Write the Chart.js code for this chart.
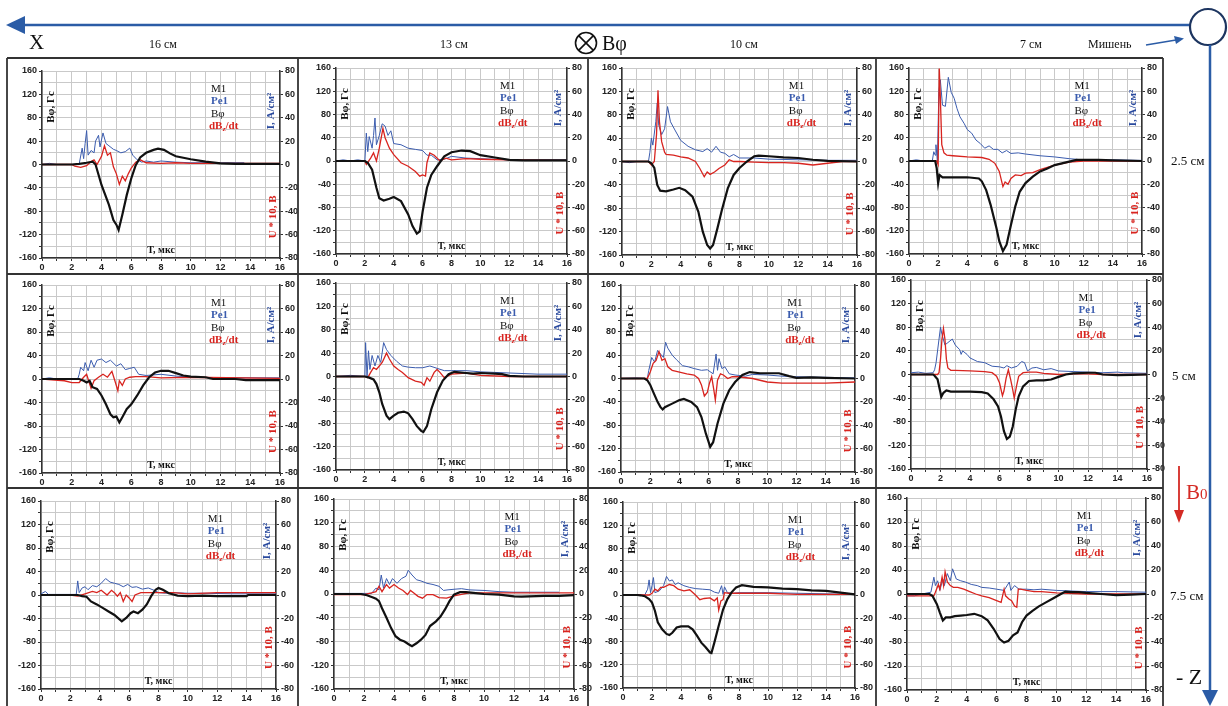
<!DOCTYPE html>
<html><head><meta charset="utf-8">
<script src="https://cdn.jsdelivr.net/npm/chart.js@4.4.1/dist/chart.umd.min.js"></script>
<style>
html,body{margin:0;padding:0;background:#fff;width:1228px;height:706px;overflow:hidden;}
#root{position:relative;width:1228px;height:706px;}
canvas{position:absolute;}
.t{position:absolute;font-family:"Liberation Serif","Times New Roman",serif;color:#111;white-space:nowrap;line-height:1;}
#ov{position:absolute;left:0;top:0;pointer-events:none;}
</style></head><body><div id="root">
<svg id="ov" width="1228" height="706">
  <g stroke="#333" stroke-width="1.8" fill="none">
    <line x1="7" y1="58" x2="1163" y2="58"/>
    <line x1="7" y1="274" x2="1163" y2="274"/>
    <line x1="7" y1="488" x2="1163" y2="488"/>
    <line x1="7" y1="58" x2="7" y2="706"/>
    <line x1="298" y1="58" x2="298" y2="706"/>
    <line x1="588" y1="58" x2="588" y2="706"/>
    <line x1="876" y1="58" x2="876" y2="706"/>
    <line x1="1163" y1="58" x2="1163" y2="706"/>
  </g>
  <line x1="20" y1="25" x2="1190" y2="25" stroke="#2b5ca6" stroke-width="2.5"/>
  <polygon points="6,25 25,16 25,34" fill="#2b5ca6"/>
  <circle cx="1208" cy="27" r="18" fill="#fff" stroke="#1d3560" stroke-width="2.2"/>
  <line x1="1210" y1="45" x2="1210" y2="692" stroke="#2b5ca6" stroke-width="2.5"/>
  <polygon points="1210,706 1202,690 1218,690" fill="#2b5ca6"/>
  <line x1="1146" y1="45" x2="1176" y2="40" stroke="#2b5ca6" stroke-width="1.5"/>
  <polygon points="1184,38.5 1174,36 1176,44" fill="#2b5ca6"/>
  <circle cx="586" cy="43" r="10.5" fill="none" stroke="#111" stroke-width="1.6"/>
  <line x1="578.6" y1="35.6" x2="593.4" y2="50.4" stroke="#111" stroke-width="1.6"/>
  <line x1="593.4" y1="35.6" x2="578.6" y2="50.4" stroke="#111" stroke-width="1.6"/>
  <line x1="1179" y1="466" x2="1179" y2="512" stroke="#d42a24" stroke-width="1.8"/>
  <polygon points="1179,523 1174,510 1184,510" fill="#d42a24"/>
</svg>
<div class="t" style="left:29px;top:32px;font-size:21px;">X</div>
<div class="t" id="c0" style="left:149px;top:38px;font-size:12px;"></div>
<div class="t" id="c1" style="left:440px;top:38px;font-size:12px;"></div>
<div class="t" style="left:602px;top:33px;font-size:20px;">Bφ</div>
<div class="t" id="c2" style="left:730px;top:38px;font-size:12px;"></div>
<div class="t" id="c3" style="left:1020px;top:38px;font-size:12px;"></div>
<div class="t" style="left:1088px;top:38px;font-size:12px;">Мишень</div>
<div class="t" id="r0" style="left:1171px;top:154px;font-size:13px;"></div>
<div class="t" id="r1" style="left:1172px;top:369px;font-size:13px;"></div>
<div class="t" id="r2" style="left:1170px;top:589px;font-size:13px;"></div>
<div class="t" style="left:1186px;top:482px;font-size:21px;color:#d42a24;">B<span style="font-size:15px;">0</span></div>
<div class="t" style="left:1176px;top:666px;font-size:22px;">- Z</div>
</div>
<script>
// ---------- labels ----------
const columnLabels = ['16 см', '13 см', '10 см', '7 см'];
const rowLabels = ['2.5 см', '5 см', '7.5 см'];
const seriesNames = ['M1', 'Pe1', 'Bφ', 'dBz/dt'];
const xTickRange = [0, 16];
const leftTickRange = [-160, 160];
const rightTickRange = [-80, 80];

// ---------- data: [t (мкс), value] ----------
// Bφ (Гс, left axis); I = Pe1 (A/см², right axis); U = dBz/dt (U*10 В, right axis)
const B1 = [[0,0],[1,0],[2,0],[2.5,1],[3,3],[3.4,5],[3.6,0],[4,-35],[4.5,-69],[4.8,-95],[5,-103],[5.15,-112],[5.4,-86],[5.7,-52],[6,-24],[6.3,-1],[6.6,12],[7,20],[7.5,25],[7.8,27],[8.2,25],[8.6,19],[9,14],[10,9],[11,5],[12,2],[13,1],[16,1]];
const I1 = [[0,0],[0.5,1],[1,0],[2,0],[2.5,0.5],[2.7,14],[2.8,5],[2.9,18],[3.0,29],[3.1,8],[3.3,12],[3.5,10],[3.6,20],[3.8,25],[3.9,15],[4.1,27],[4.3,18],[4.5,16],[4.8,13],[5,12],[5.3,10],[5.6,11],[5.9,14],[6.1,8],[6.4,4],[6.7,2],[7,3],[7.5,2],[8,3],[9,2],[10,1.5],[12,1.5],[13.6,1.5]];
const U1 = [[0,0],[2,0],[2.2,-1.5],[2.6,-2.5],[3,-1],[3.3,2.5],[3.5,4],[3.7,0],[4,7],[4.2,16],[4.4,8],[4.6,10],[4.8,-2],[5.0,-8],[5.2,-17],[5.4,-10],[5.6,-14],[5.8,-8],[6,-3],[6.3,2],[6.6,4],[7,1.5],[8,1],[9,1.5],[10,1],[16,1]];

const B2 = [[0,0],[1,0],[2,0],[2.2,-3],[2.5,-15],[2.8,-46],[3.0,-64],[3.3,-68],[3.7,-65],[4,-62],[4.5,-69],[5,-92],[5.3,-112],[5.6,-125],[5.8,-121],[6,-87],[6.3,-46],[6.6,-24],[7,-9],[7.5,8],[8,15],[8.7,18],[9.3,17],[10,10],[11,6],[12,2],[13,1],[16,1]];
const I2 = [[0,0],[0.5,1],[1,0],[1.5,1],[2,0],[2.1,24],[2.2,8],[2.3,21],[2.5,11],[2.6,22],[2.7,37],[2.8,14],[3.0,22],[3.2,32],[3.4,30],[3.6,22],[3.8,26],[4,15],[4.5,14],[5,11],[5.5,10],[6,9],[6.3,5],[6.6,5],[7,1],[7.5,1.5],[8,4],[9,2.5],[10,2],[11,1.5],[12,1],[16,1]];
const U2 = [[0,0],[2,0],[2.1,-3],[2.4,2.5],[2.6,7],[2.8,0],[3.0,11],[3.25,28],[3.4,20],[3.7,11],[4,5.5],[4.5,-1.5],[5,-4.5],[5.5,-9],[5.8,-13],[6,-12],[6.2,-13],[6.3,-1.5],[6.5,7],[6.8,5],[7.2,0],[7.6,2.5],[8,1],[9,2],[10,1.5],[12,1],[16,0.5]];

const B3 = [[0,0],[1.8,0],[2,-3],[2.2,-11],[2.4,-40],[2.6,-50],[3,-51],[3.5,-48],[3.9,-45],[4.3,-49],[4.8,-60],[5.2,-86],[5.5,-120],[5.8,-143],[6,-149],[6.2,-143],[6.5,-114],[6.8,-83],[7.2,-46],[7.6,-23],[8,-11],[8.5,0],[9,9],[9.3,10],[10,9],[11,7],[12,6],[13,3],[14,1],[16,0]];
const I3 = [[0,0],[0.5,-1],[1,0],[1.8,0],[1.9,8],[2.0,20],[2.1,14],[2.3,34],[2.4,50],[2.5,31],[2.7,23],[2.9,28],[3.1,47],[3.3,34],[3.6,27],[4,18],[4.5,13],[5,10],[5.5,8.5],[5.8,11],[6.1,8],[6.4,13],[6.7,8],[7,7],[7.3,4],[7.6,6],[8,3],[9,3],[10,2],[12,1.5],[14,1],[16,1]];
const U3 = [[0,0],[1.8,0],[2,-3],[2.2,0],[2.35,23],[2.45,61],[2.55,34],[2.7,17],[2.9,8],[3,6],[3.5,5.5],[4,4],[4.5,3],[5,0],[5.3,-6],[5.6,-13],[5.8,-9],[6,-11],[6.3,-9],[6.6,-6],[7,-3],[7.3,1.5],[7.6,0],[8,0],[9,-0.5],[10,-1],[11,-1],[12,-1.5],[13,-3],[14,-1.5],[15,0],[16,0]];

const B4 = [[0,0],[1.8,0],[1.9,-12],[2.0,-38],[2.1,-24],[2.3,-28],[3,-28],[4,-28],[4.8,-30],[5,-35],[5.3,-50],[5.6,-75],[6,-115],[6.2,-138],[6.45,-155],[6.7,-144],[7,-110],[7.3,-78],[7.6,-53],[8,-38],[8.5,-27],[9,-18],[9.5,-13],[10,-7],[10.5,-4],[11,-1],[11.5,2],[13,2],[14,1],[16,0]];
const I4 = [[0,0],[0.5,1],[1,0],[1.6,0],[1.7,8],[1.8,5],[1.85,14],[1.95,0],[2.05,60],[2.15,70],[2.3,48],[2.5,47],[2.7,72],[2.9,59],[3.1,54],[3.3,45],[3.5,38],[3.8,32],[4,27],[4.3,24],[4.6,18],[4.9,15],[5.2,11],[5.5,13],[5.8,10],[6.1,10],[6.4,7],[6.7,9],[7,6.5],[7.5,7],[8,6],[9,4.5],[10,3.5],[11,2],[11.5,1.5],[12,0.5],[13,0.5],[14,1],[16,0.5]];
const U4 = [[0,0],[1.9,0],[2.0,-3],[2.08,79.5],[2.15,56],[2.25,14],[2.4,7],[2.6,5],[3,4.5],[4,3.5],[5,3],[5.5,1.5],[5.9,-2],[6.2,-9],[6.45,-22],[6.6,-18],[6.8,-20],[7,-15],[7.3,-12],[7.7,-12.5],[8,-10.5],[8.5,-10],[9,-7.5],[10,-3.5],[11,-1],[12,0],[16,0]];

const B5 = [[0,0],[2.5,0],[2.8,-3],[3.0,-6],[3.2,-3],[3.4,-14],[3.7,-17],[4,-28],[4.3,-43],[4.6,-60],[4.8,-65],[5,-64],[5.2,-74],[5.4,-65],[5.7,-51],[6,-43],[6.4,-28],[6.8,-11],[7.2,3],[7.6,11],[8,14],[8.5,14],[9,10],[9.5,6],[10,4],[11,3],[11.5,0],[13,0],[13.7,-2],[16,-2]];
const I5 = [[0,0],[0.5,1],[1,0],[2.4,0],[2.5,4],[2.6,10],[2.8,7],[2.9,14],[3.1,7],[3.3,16],[3.5,10],[3.7,16],[4,17],[4.3,14],[4.6,16],[5,11],[5.3,13],[5.6,8],[5.9,9],[6.2,10],[6.5,4],[7,3],[7.5,3.5],[8,4],[9,2.5],[10,1.5],[12,1],[16,1]];
const U5 = [[0,0],[1.5,-1.5],[2,-3],[2.5,-3],[2.8,1.5],[3.0,4],[3.2,-4],[3.3,-8],[3.5,-1.5],[3.8,1.5],[4.1,4],[4.4,1.5],[4.7,6.5],[4.9,-1.5],[5.1,-10],[5.2,-1.5],[5.4,-5.5],[5.6,0],[5.9,1.5],[6.3,2],[7,2],[8,1],[10,1.5],[16,0.5]];

const B6 = [[0,0],[2,0],[2.3,-2],[2.6,-5],[2.8,-13],[3.0,-27],[3.2,-47],[3.5,-67],[3.7,-73],[4,-67],[4.3,-62],[4.7,-60],[5,-63],[5.3,-73],[5.6,-85],[5.9,-93],[6.05,-95],[6.3,-85],[6.6,-56],[7,-27],[7.4,-7],[7.8,4],[8.2,8],[9,6],[9.5,5],[10,6],[11,5],[11.5,4],[12,1],[13,0],[16,0]];
const I6 = [[0,0],[1,1],[2,0],[2.05,29],[2.15,0],[2.25,22],[2.35,6],[2.5,18],[2.7,9],[2.9,18],[3.1,12],[3.3,29],[3.5,23],[3.8,18],[4.2,13],[4.6,9],[5,8],[5.5,7.5],[6,7.5],[6.5,9],[7,7],[7.5,5],[8,5],[9,5],[10,4],[11,3.5],[12,3],[14,2],[16,2]];
const U6 = [[0,0],[2,0],[2.2,-1],[2.4,3.5],[2.6,7.5],[2.8,6],[3.0,9],[3.2,12],[3.5,20],[3.7,15],[4,9],[4.3,6],[4.6,3.5],[5,-1],[5.5,-4],[5.9,-5],[6.1,-7.5],[6.3,-1],[6.5,-4],[6.8,3.5],[7,6],[7.2,3.5],[7.5,-1],[8,2],[9,3],[10,1],[12,0],[16,0]];

const B7 = [[0,0],[1.6,0],[1.8,-3],[2,-11],[2.2,-23],[2.5,-40],[2.7,-49],[2.85,-53],[3,-49],[3.5,-43],[4,-37],[4.3,-35],[4.8,-40],[5.2,-49],[5.5,-66],[5.8,-94],[6.1,-117],[6.3,-109],[6.6,-77],[7,-43],[7.4,-20],[7.8,-6],[8.3,6],[8.8,11],[9.5,9],[10,9],[10.8,9],[11.5,4],[12,1],[13,2],[14,1],[16,0]];
const I7 = [[0,0],[1,0.5],[1.8,0],[1.9,7],[2.1,18],[2.3,14],[2.5,24],[2.7,21],[2.9,18],[3.05,31],[3.2,26],[3.5,20],[3.8,16],[4.2,11],[4.6,10],[5,8.5],[5.5,7],[5.9,7.5],[6.3,4],[6.5,21],[6.6,7],[6.7,17],[6.9,8.5],[7.1,10],[7.4,4],[7.8,3],[8.5,2],[9,3.5],[10,3],[11,2],[12,1.5],[14,1],[16,0.5]];
const U7 = [[0,0],[1.8,0],[2,5.5],[2.2,13],[2.4,15.5],[2.6,23],[2.8,15.5],[3,17],[3.2,10],[3.5,7],[4,5.5],[4.5,4],[5,3],[5.3,0],[5.5,-5.5],[5.7,-15],[5.9,-12],[6.05,-4],[6.2,1.5],[6.35,-10],[6.45,-18.5],[6.6,-1.5],[6.8,4],[7,3],[7.3,0],[7.6,1.5],[8,1.5],[9,0],[10,-3],[11,-4],[12,-4],[13,-4],[14,-4],[16,-3]];

const B8 = [[0,0],[1.5,0],[1.6,-2],[1.8,-8],[2.0,-31],[2.05,-38],[2.2,-31],[2.4,-27],[2.7,-29],[3,-29],[4,-29],[4.8,-30],[5.2,-32],[5.6,-42],[5.9,-54],[6.1,-71],[6.3,-96],[6.5,-109],[6.7,-105],[6.9,-88],[7.1,-59],[7.3,-37],[7.6,-20],[8,-11],[8.5,-10],[9,-10],[9.5,-8.5],[10,-4],[10.5,0],[11,2],[12,3],[12.5,3],[13,0],[14,-1],[15,-0.5],[16,0]];
const I8 = [[0,1.5],[0.5,2],[1,1],[1.5,1.5],[1.6,4],[1.7,10],[1.9,30],[2.0,40],[2.1,34],[2.3,25],[2.5,27],[2.8,30],[3.0,25],[3.3,21],[3.4,17],[3.5,20],[3.8,17],[4,14],[4.5,11],[5,10],[5.5,7],[6,6.5],[6.3,5.5],[6.5,7.5],[6.8,5.5],[7.2,7],[7.5,11],[7.7,10],[7.9,3],[8.2,5.5],[8.5,6],[9,4],[9.5,5],[10,3],[11,2.5],[12,2],[13,1.5],[14,2],[14.4,1.5],[16,1]];
const U8 = [[0,0],[1.8,0],[1.9,1.5],[2.0,13],[2.1,30],[2.2,39],[2.3,30],[2.4,13],[2.5,5.5],[2.7,3.5],[3,3.5],[4,3],[5,2.5],[5.5,1.5],[5.8,-1.5],[6.0,-7],[6.2,-18],[6.3,-14],[6.45,-3],[6.6,4],[6.75,-4],[6.9,-13],[7.0,-20],[7.15,-10],[7.3,-1.5],[7.6,1.5],[8,2],[8.5,2],[9,1],[10,0],[11,0.5],[12,0.5],[13,0],[16,0]];

const B9 = [[0,0],[2.5,0],[2.8,-2],[3.1,-3],[3.4,-11],[3.8,-16],[4.2,-22],[4.6,-28],[5,-34],[5.5,-45],[5.8,-39],[6.1,-31],[6.3,-28],[6.6,-31],[6.9,-25],[7.2,-16],[7.5,-2],[7.8,9],[8,12],[8.3,9],[8.7,3],[9.3,-1],[10,-2],[11,-1],[12,-2],[13,-2],[14,-2],[14.1,0],[16,0]];
const I9 = [[0,1],[0.3,3],[0.5,0.5],[2.4,0.5],[2.5,12],[2.6,2],[2.8,6],[3.0,7],[3.2,4.5],[3.5,8],[3.8,7],[4.1,10],[4.4,14],[4.7,11],[5,10],[5.3,9],[5.6,7],[5.9,9],[6.2,6.5],[6.5,7],[6.9,5],[7.3,6],[7.7,4],[8,2],[8.5,1.5],[9,2],[10,1.5],[11,1.5],[13,1],[16,1]];
const U9 = [[0,0],[2,0],[2.5,-1],[3,1],[3.5,3],[3.8,2],[4.1,4],[4.5,0],[4.8,4],[5.0,2],[5.2,-1],[5.4,2],[5.6,-5.5],[5.8,0],[6.0,-2.5],[6.2,-5.5],[6.4,0],[6.8,2],[7.5,2],[8,2],[9,2],[10,1],[12,2],[14,2],[16,2]];

const B10 = [[0,0],[1.8,0],[2.2,-2],[2.6,-6],[2.8,-8],[3.0,-12],[3.2,-24],[3.5,-40],[3.8,-57],[4.1,-71],[4.4,-77],[4.7,-80],[5.0,-85],[5.2,-88],[5.5,-83],[5.8,-77],[6.1,-69],[6.4,-54],[6.8,-46],[7.1,-38],[7.4,-26],[7.7,-12],[8,-1],[8.4,3],[8.8,3],[9.3,2],[10,0],[11,-1],[12,-4],[12.5,-4.5],[13,-4],[14,-3],[15,-3],[16,-2]];
const I10 = [[0,0.5],[1,0.5],[2.5,0.5],[2.8,5],[3.0,3.5],[3.15,16],[3.3,5],[3.5,13],[3.7,8],[3.9,13],[4.2,9],[4.5,13],[4.8,15],[4.95,20],[5.2,16],[5.5,12],[5.8,11],[6.2,9],[6.6,8],[7,6.5],[7.3,3],[7.6,3.5],[8,4],[8.5,4.5],[9,3.5],[10,3],[11,2],[12,1.5],[14,1.5],[15,1.5]];
const U10 = [[0,-0.5],[1,-0.5],[2,-0.5],[2.5,1],[2.8,2],[3.0,6.5],[3.2,2],[3.5,8],[3.7,5],[4,8],[4.3,5],[4.6,3],[4.9,-0.5],[5.1,3],[5.3,1],[5.6,-2],[5.9,-3.5],[6.2,-0.5],[6.6,-0.5],[7,-3],[7.5,-3.5],[8,-1.5],[9,1],[10,1],[12,1],[14,1],[16,1]];

const B11 = [[0,0],[1,0],[1.2,-0.5],[1.5,-2],[1.8,-7],[2.0,-13],[2.2,-27],[2.4,-47],[2.7,-59],[3.0,-67],[3.2,-69],[3.4,-65],[3.7,-56],[4,-54],[4.5,-54],[4.8,-59],[5.1,-70],[5.4,-82],[5.7,-90],[6.0,-99],[6.1,-100],[6.3,-82],[6.6,-53],[6.9,-25],[7.2,-7],[7.5,5],[7.8,13],[8.2,17],[9,14],[10,13],[11,11],[12,10],[13,8],[14,7],[15,4],[16,1]];
const I11 = [[0,0],[1,0],[1.5,0],[1.7,5],[1.8,13],[1.9,2],[2.0,8],[2.1,15],[2.2,2],[2.5,3.5],[2.8,8],[3.0,16],[3.2,12],[3.4,13],[3.6,9],[3.8,10.5],[4.2,8],[4.6,6.5],[5,5.5],[5.5,5],[6,4.5],[6.3,2.5],[6.6,1.5],[6.8,8],[6.9,0.5],[7.0,7],[7.2,2],[7.6,1.5],[8,2],[10,2],[12,1.5],[14,1],[16,0.5]];
const U11 = [[0,0],[1.8,0],[2.0,1.5],[2.2,5],[2.4,3.5],[2.6,6.5],[2.8,6.5],[3.2,9],[3.5,8],[3.8,5],[4.2,3.5],[4.6,4.5],[5,0],[5.3,-4],[5.6,-3],[6,-2.5],[6.3,-5],[6.5,-2.5],[6.6,-13],[6.75,-5],[6.9,-4],[7.0,2],[7.3,1.5],[8,1.5],[10,1.5],[12,0.5],[14,0.5],[16,0.5]];

const B12 = [[0,0],[1.5,0],[1.7,-3],[2.0,-17],[2.2,-31],[2.4,-44],[2.6,-39],[2.9,-39],[3.2,-37],[3.6,-36],[4,-35],[4.5,-33],[5,-37],[5.4,-44],[5.8,-58],[6.2,-75],[6.5,-81],[6.8,-78],[7.1,-69],[7.4,-64],[7.7,-47],[8,-36],[8.4,-28],[8.8,-21],[9.3,-14],[9.8,-7],[10.3,0],[10.6,4],[11,3],[11.5,3],[12,2],[13,0],[14,-2],[15,-1],[16,0]];
const I12 = [[0,-1.5],[0.5,-1.5],[1,0],[1.6,1.5],[1.8,14],[1.9,7],[2.05,11],[2.2,3],[2.4,12.5],[2.5,7],[2.7,17],[2.9,11],[3.05,21],[3.3,12.5],[3.6,11],[3.9,10],[4.3,8],[4.7,7],[5,5.5],[5.5,5],[6,4],[6.5,3],[6.85,10],[6.95,3],[7.2,7],[7.5,4],[8,4],[8.5,3.5],[9,4],[10,3],[12,2],[14,2],[16,1.5]];
const U12 = [[0,-1.5],[1,-1.5],[1.8,-1.5],[1.9,1.5],[2.1,8],[2.2,4],[2.35,14],[2.45,7],[2.55,18.5],[2.7,10],[2.9,7],[3.1,5.5],[3.4,5.5],[3.8,4],[4.2,2],[4.6,0],[5,-1.5],[5.5,-3],[6,-5.5],[6.3,-7],[6.5,4],[6.6,-1.5],[6.8,-4],[7.0,-5.5],[7.2,-10],[7.35,-11],[7.45,4],[7.6,4],[8,3],[8.5,2],[9,2],[10,1],[12,0],[14,0],[16,0]];

const Bseries = [B1,B2,B3,B4,B5,B6,B7,B8,B9,B10,B11,B12];
const Iseries = [I1,I2,I3,I4,I5,I6,I7,I8,I9,I10,I11,I12];
const Useries = [U1,U2,U3,U4,U5,U6,U7,U8,U9,U10,U11,U12];

// ---------- layout (plot areas: left, top, right, bottom) ----------
const plotBoxes = [
  [42,71,280,258],[336,68,567,254],[622,68,857,255],[909,68,1142,254],
  [42,285,280,473],[336,283,567,470],[621,285,855,472],[911,280,1147,469],
  [41,501,276,689],[334,499,574,689],[623,502,855,688],[907,498,1146,690]
];

columnLabels.forEach((s,i)=>document.getElementById('c'+i).textContent=s);
rowLabels.forEach((s,i)=>document.getElementById('r'+i).textContent=s);

const BLACK='#111111', BLUE='#3b5cae', RED='#d8241f';
const SERIF='"Liberation Serif","Times New Roman",serif';

function vtext(ctx, txt, x, y, font, color){
  ctx.save(); ctx.translate(x,y); ctx.rotate(-Math.PI/2);
  ctx.font=font; ctx.fillStyle=color; ctx.textAlign='center'; ctx.textBaseline='middle';
  ctx.fillText(txt,0,0); ctx.restore();
}
const panelText = {
  id:'panelText',
  afterDatasetsDraw(chart){
    const ctx=chart.ctx, a=chart.chartArea;
    const w=a.right-a.left, h=a.bottom-a.top;
    const f='bold 11px '+SERIF;
    vtext(ctx,'Bφ, Гс',a.left+9,a.top+36,f,BLACK);
    vtext(ctx,'I, A/см²',a.right-9,a.top+40,f,'#2a4a9e');
    vtext(ctx,'U * 10, B',a.right-7,a.top+h*0.78,f,RED);
    ctx.save();
    ctx.font='bold 10px '+SERIF; ctx.fillStyle=BLACK; ctx.textAlign='center'; ctx.textBaseline='middle';
    ctx.fillText('T, мкс',a.left+w*0.5,a.bottom-8);
    const lx=a.left+w*0.71;
    ctx.textAlign='left';
    ctx.font='11px '+SERIF; ctx.fillStyle=BLACK; ctx.fillText(seriesNames[0],lx,a.top+18);
    ctx.font='bold 11px '+SERIF; ctx.fillStyle=BLUE; ctx.fillText(seriesNames[1],lx,a.top+30);
    ctx.font='11px '+SERIF; ctx.fillStyle=BLACK; ctx.fillText(seriesNames[2],lx,a.top+43);
    ctx.font='bold 11px '+SERIF; ctx.fillStyle=RED;
    let x=lx-2; ctx.fillText('dB',x,a.top+55); x+=ctx.measureText('dB').width;
    ctx.font='bold 7px '+SERIF; ctx.fillText('z',x,a.top+58); x+=ctx.measureText('z').width;
    ctx.font='bold 11px '+SERIF; ctx.fillText('/dt',x,a.top+55);
    ctx.restore();
  }
};

const toXY = arr => arr.map(p=>({x:p[0],y:p[1]}));
const tickFont={family:'"Liberation Sans",Arial,sans-serif',size:9,weight:'bold'};
const root=document.getElementById('root');
const LW=34, RW=23, XH=16, PT=8;

plotBoxes.forEach((b,i)=>{
  const [L,T,R,Bt]=b;
  const cv=document.createElement('canvas');
  const W=(R-L)+LW+RW, H=(Bt-T)+PT+XH;
  cv.width=W; cv.height=H;
  cv.style.left=(L-LW)+'px'; cv.style.top=(T-PT)+'px';
  cv.style.width=W+'px'; cv.style.height=H+'px';
  root.insertBefore(cv, document.getElementById('ov'));
  new Chart(cv,{
    type:'line',
    data:{datasets:[
      {label:seriesNames[2],data:toXY(Bseries[i]),borderColor:BLACK,borderWidth:2.2,yAxisID:'y',pointRadius:0,tension:0},
      {label:seriesNames[3],data:toXY(Useries[i]),borderColor:RED,borderWidth:1.3,yAxisID:'y2',pointRadius:0,tension:0},
      {label:seriesNames[1],data:toXY(Iseries[i]),borderColor:BLUE,borderWidth:1,yAxisID:'y2',pointRadius:0,tension:0}
    ]},
    options:{
      responsive:false,animation:false,devicePixelRatio:1,
      layout:{padding:{top:PT,left:0,right:0,bottom:0}},
      plugins:{legend:{display:false},tooltip:{enabled:false}},
      scales:{
        x:{type:'linear',min:xTickRange[0],max:xTickRange[1],
          afterFit:s=>{s.height=XH;},
          ticks:{stepSize:1,autoSkip:false,maxRotation:0,padding:1,color:'#222',font:tickFont,
            callback:v=>(v%2===0?v:'')},
          grid:{color:'#c9c9c9',lineWidth:1,tickLength:3,tickColor:'#333'},
          border:{color:'#333',width:1.5}},
        y:{type:'linear',position:'left',min:leftTickRange[0],max:leftTickRange[1],
          afterFit:s=>{s.width=LW;},
          ticks:{stepSize:20,autoSkip:false,padding:2,color:'#222',font:tickFont,
            callback:v=>(v%40===0?v:'')},
          grid:{color:'#c9c9c9',lineWidth:1,tickLength:3,tickColor:'#333'},
          border:{color:'#333',width:1.5}},
        y2:{type:'linear',position:'right',min:rightTickRange[0],max:rightTickRange[1],
          afterFit:s=>{s.width=RW;},
          ticks:{stepSize:20,autoSkip:false,padding:2,color:'#222',font:tickFont},
          grid:{drawOnChartArea:false,tickLength:3,color:'#333'},
          border:{color:'#333',width:1.5}}
      }
    },
    plugins:[panelText]
  });
});
</script>
</body></html>
